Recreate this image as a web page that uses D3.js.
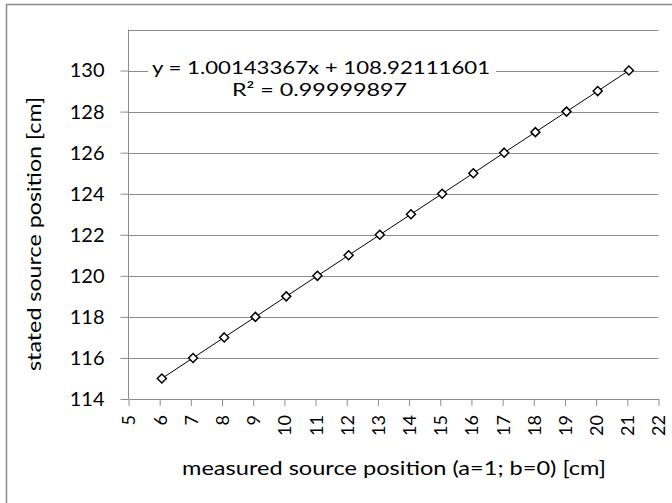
<!DOCTYPE html>
<html>
<head>
    <meta charset="utf-8">
    <script src="https://d3js.org/d3.v7.min.js"></script>
    <style>
        body { margin: 0; background: #fff; }
        text { font-family: Lato, "Liberation Sans", sans-serif; fill: #000; }
        .grid line { stroke: #8c8c8c; stroke-width: 1px; }
        .axis path, .axis line { stroke: #8c8c8c; stroke-width: 1px; }
    </style>
</head>
<body>
<script>
    // measured source position [cm]
    var measured = [6.07, 7.07, 8.07, 9.07, 10.06, 11.06, 12.06, 13.06, 14.06, 15.06, 16.06, 17.05, 18.05, 19.05, 20.05, 21.05];
    // stated source position [cm]
    var stated = [115, 116, 117, 118, 119, 120, 121, 122, 123, 124, 125, 126, 127, 128, 129, 130];

    var xTicks = [5, 6, 7, 8, 9, 10, 11, 12, 13, 14, 15, 16, 17, 18, 19, 20, 21, 22];
    var yTicks = [114, 116, 118, 120, 122, 124, 126, 128, 130];
    var gridValues = [116, 118, 120, 122, 124, 126, 128, 130, 132];

    var fitLine = "y = 1.00143367x + 108.92111601";
    var fitR2 = "R\u00B2 = 0.99999897";

    var width = 672,
        height = 503;

    var svg = d3.select("body").append("svg")
        .attr("width", width)
        .attr("height", height);

    // chart border (right and bottom fall outside the picture)
    svg.append("rect")
        .attr("x", 6.5).attr("y", 4.5)
        .attr("width", 700).attr("height", 520)
        .attr("fill", "none")
        .attr("stroke", "#8a8a8a")
        .attr("stroke-width", 1.5);

    var x = d3.scaleLinear().domain([5, 22]).range([128.5, 658.5]);
    var y = d3.scaleLinear().domain([114, 132]).range([399, 29.5]);

    // horizontal gridlines
    svg.append("g").attr("class", "grid")
        .selectAll("line")
        .data(gridValues)
        .enter().append("line")
        .attr("x1", x(5)).attr("x2", x(22))
        .attr("y1", function (d) { return Math.round(y(d)) + 0.5; })
        .attr("y2", function (d) { return Math.round(y(d)) + 0.5; });

    // y axis
    var yAxis = svg.append("g").attr("class", "axis")
        .attr("transform", "translate(" + x(5) + ",0)")
        .call(d3.axisLeft(y).tickValues(yTicks).tickSize(8).tickSizeOuter(0).tickFormat(d3.format("d")));
    yAxis.select(".domain").attr("d", "M0," + y(132) + "V" + y(114));
    yAxis.selectAll("text")
        .attr("x", -24)
        .style("font-size", "20px");

    // x axis
    var xAxis = svg.append("g").attr("class", "axis")
        .attr("transform", "translate(0," + y(114) + ")")
        .call(d3.axisBottom(x).tickValues(xTicks).tickSize(7).tickSizeOuter(0).tickFormat(d3.format("d")));
    xAxis.selectAll("text")
        .attr("y", 0).attr("x", 0)
        .attr("dy", "0.36em")
        .attr("text-anchor", "end")
        .attr("transform", "translate(0,16) rotate(-90)")
        .style("font-size", "18px");

    // white box behind equation label so gridline stops
    var eqG = svg.append("g");
    eqG.append("rect")
        .attr("x", 148).attr("y", 58)
        .attr("width", 348).attr("height", 40)
        .attr("fill", "#fff");
    eqG.append("text")
        .attr("x", 321).attr("y", 74)
        .attr("text-anchor", "middle")
        .attr("textLength", 338)
        .attr("lengthAdjust", "spacingAndGlyphs")
        .style("font-size", "18px")
        .text(fitLine);
    eqG.append("text")
        .attr("x", 319.5).attr("y", 96)
        .attr("text-anchor", "middle")
        .attr("textLength", 175)
        .attr("lengthAdjust", "spacingAndGlyphs")
        .style("font-size", "18px")
        .text(fitR2);

    var points = measured.map(function (m, i) { return [m, stated[i]]; });

    // connecting line
    svg.append("path")
        .datum(points)
        .attr("fill", "none")
        .attr("stroke", "#000")
        .attr("stroke-width", 1)
        .attr("d", d3.line()
            .x(function (d) { return x(d[0]); })
            .y(function (d) { return y(d[1]); }));

    // diamond markers
    svg.append("g")
        .selectAll("path")
        .data(points)
        .enter().append("path")
        .attr("transform", function (d) { return "translate(" + x(d[0]) + "," + y(d[1]) + ")"; })
        .attr("d", "M0,-4.5L4.5,0L0,4.5L-4.5,0Z")
        .attr("fill", "#fff")
        .attr("stroke", "#000")
        .attr("stroke-width", 1.5);

    // axis titles
    svg.append("text")
        .attr("x", 394).attr("y", 475)
        .attr("text-anchor", "middle")
        .attr("textLength", 424)
        .attr("lengthAdjust", "spacingAndGlyphs")
        .style("font-size", "19px")
        .text("measured source position (a=1; b=0) [cm]");

    svg.append("text")
        .attr("transform", "translate(41,234) rotate(-90)")
        .attr("text-anchor", "middle")
        .attr("textLength", 274)
        .attr("lengthAdjust", "spacingAndGlyphs")
        .style("font-size", "19px")
        .text("stated source position [cm]");
</script>
</body>
</html>
